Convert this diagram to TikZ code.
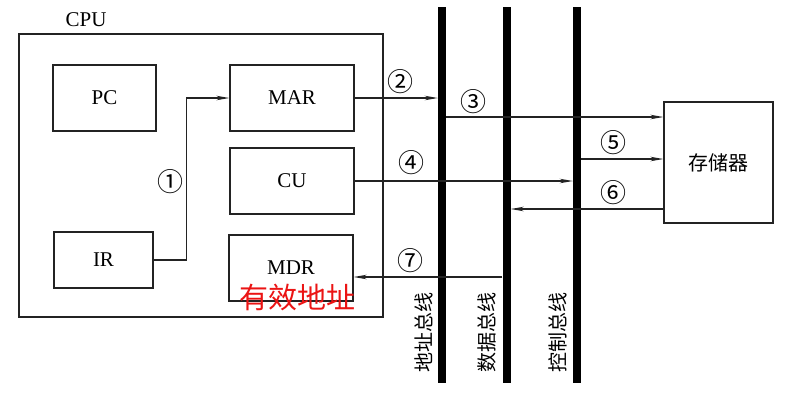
\documentclass[tikz,border=0pt]{standalone}
\usepackage{fontspec}
\setmainfont{Liberation Serif}
\newfontfamily\cjk{Noto Sans CJK SC}
\usetikzlibrary{arrows.meta, positioning, calc}
\definecolor{linegray}{RGB}{35,35,35}
\definecolor{markred}{RGB}{235,20,20}

\begin{document}
\begin{tikzpicture}[x=1pt, y=-1pt,
  reg/.style={draw=linegray, line width=1.3pt, minimum width=124pt, minimum height=66pt, inner sep=0pt, font=\fontsize{21}{24}\selectfont},
  bus/.style={fill=black, minimum width=8pt, minimum height=376pt, inner sep=0pt},
  arr/.style={draw=linegray, -{Stealth[length=13pt,width=4.5pt]}, line width=1.3pt},
  num/.style={font=\cjk\fontsize{26}{28}\selectfont},
  buslabel/.style={rotate=90, font=\cjk\fontsize{20}{24}\selectfont}]
  \useasboundingbox (0,0) rectangle (794,400);

  % CPU and its registers
  \node[reg, minimum width=364pt, minimum height=283pt] (cpu) at (201,175.5) {};
  \node[font=\fontsize{21}{24}\selectfont] (cpulabel) at (86,20) {CPU};
  \node[reg, minimum width=103pt] (pc) at (104.5,98) {PC};
  \node[reg] (mar) at (292,98) {MAR};
  \node[reg] (cu) at (292,181) {CU};
  \node[reg, minimum width=99pt, minimum height=56pt] (ir) at (103.5,260) {IR};
  \node[reg] (mdr) at (291,268) {MDR};

  % memory
  \node[reg, minimum width=109pt, minimum height=121pt, font=\cjk\fontsize{20}{24}\selectfont] (mem) at (718.5,162.5) {存储器};

  % buses
  \node[bus] (abus) at (442,195) {};
  \node[bus] (dbus) at (506.5,195) {};
  \node[bus] (cbus) at (577,195) {};
  \node[buslabel] (ablabel) at (424,332) {地址总线};
  \node[buslabel] (dblabel) at (487,332) {数据总线};
  \node[buslabel] (cblabel) at (558,332) {控制总线};

  % transfers
  \draw[arr] (ir.east) -- ++(33,0) |- (mar.west);
  \draw[arr] (mar.east) -- (mar.east -| abus.west);
  \draw[arr] (abus.east |- 0,117) -- (mem.west |- 0,117);
  \draw[arr] (cu.east) -- (cu.east -| cbus.west);
  \draw[arr] (cbus.east |- 0,159) -- (mem.west |- 0,159);
  \draw[arr] (mem.west |- 0,209) -- (dbus.east |- 0,209);
  \draw[arr] (dbus.west |- 0,277) -- (mdr.east |- 0,277);

  \node[num] (n1) at (170,182) {①};
  \node[num] (n2) at (400,82) {②};
  \node[num] (n3) at (473,102) {③};
  \node[num] (n4) at (411,163) {④};
  \node[num] (n5) at (613,143) {⑤};
  \node[num] (n6) at (613,193) {⑥};
  \node[num] (n7) at (410,261) {⑦};

  \node[text=markred, font=\cjk\fontsize{29}{32}\selectfont] (note) at (297,297) {有效地址};
\end{tikzpicture}
\end{document}
